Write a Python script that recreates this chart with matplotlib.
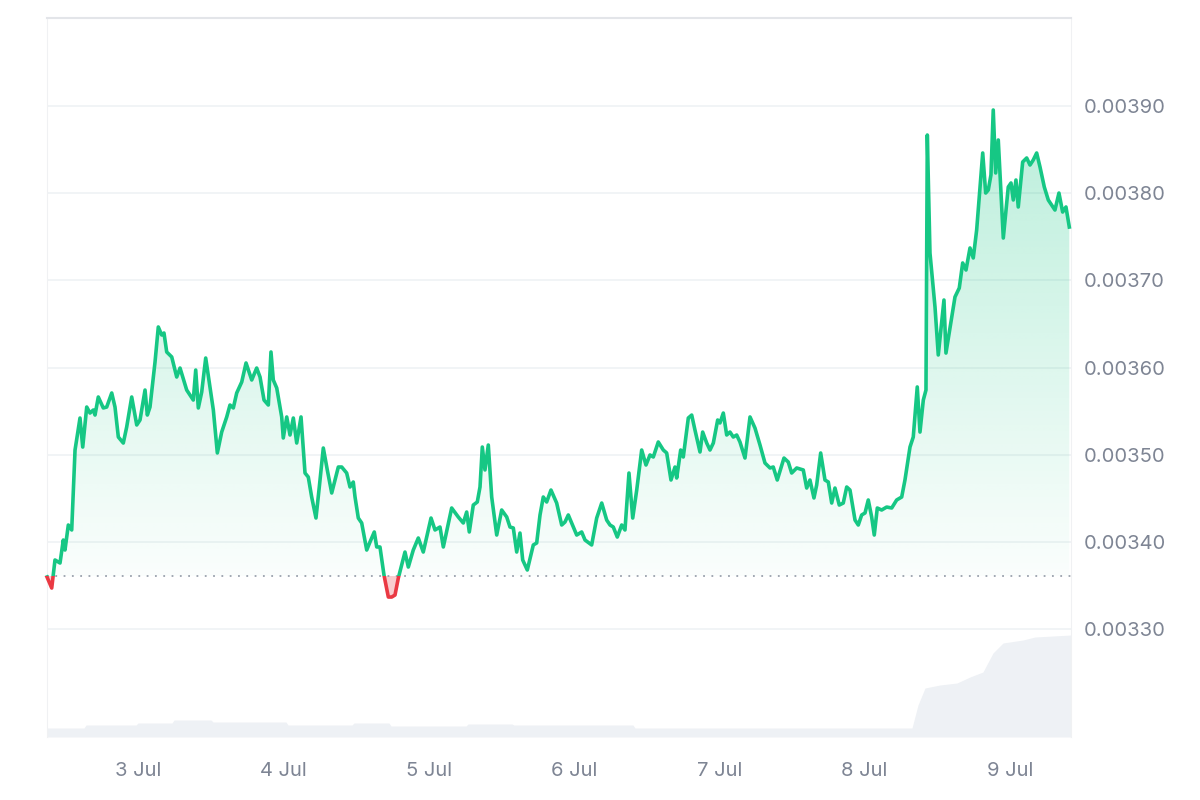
import numpy as np
import matplotlib
matplotlib.use("Agg")
import matplotlib.pyplot as plt
from matplotlib.patches import Rectangle, PathPatch
from matplotlib.path import Path

# ---------------- data ----------------
# time in hours relative to 3 Jul 00:00
hours = [
    -15.03, -14.25, -13.71, -12.88, -12.34, -12.06, -11.51, -10.95, -10.40, -9.58,
    -9.13, -8.47, -7.93, -7.38, -7.10, -6.56, -5.73, -5.17, -4.34, -3.80,
    -3.25, -2.43, -1.87, -1.04, -0.21, 0.33, 1.16, 1.54, 1.98, 2.81,
    3.35, 3.91, 4.29, 4.74, 5.57, 6.39, 6.94, 8.04, 9.13, 9.53,
    9.96, 10.52, 11.18, 12.44, 13.10, 13.82, 14.65, 15.19, 15.74, 16.30,
    17.13, 17.84, 18.78, 19.60, 20.15, 20.81, 21.52, 21.96, 22.34, 22.91,
    23.73, 23.99, 24.56, 25.10, 25.65, 26.21, 26.92, 27.58, 28.12, 28.68,
    29.39, 29.94, 30.60, 31.26, 31.99, 33.08, 33.64, 34.46, 35.01, 35.55,
    35.84, 36.38, 36.94, 37.77, 38.31, 39.02, 39.42, 39.96, 40.62, 41.34,
    41.90, 42.44, 42.99, 44.09, 44.64, 45.46, 46.29, 47.11, 48.39, 49.05,
    49.87, 50.42, 51.80, 52.89, 53.72, 54.28, 54.71, 55.37, 56.03, 56.48,
    56.86, 57.30, 57.85, 58.41, 59.24, 60.06, 60.89, 61.43, 61.98, 62.54,
    63.08, 63.53, 64.29, 65.28, 65.84, 66.39, 66.93, 67.49, 68.20, 69.14,
    69.97, 70.51, 71.06, 71.62, 72.45, 73.27, 73.82, 74.92, 75.75, 76.58,
    77.40, 77.95, 78.49, 79.15, 79.88, 80.42, 81.08, 81.70, 82.36, 83.18,
    83.89, 84.55, 85.10, 85.92, 86.75, 87.31, 88.02, 88.68, 88.96, 89.62,
    90.05, 90.88, 91.44, 91.98, 92.81, 93.25, 93.92, 94.46, 95.01, 95.73,
    96.11, 96.66, 97.22, 97.76, 98.31, 98.87, 99.41, 100.24, 101.07, 101.89,
    102.72, 103.54, 104.37, 104.91, 105.57, 106.68, 107.39, 107.95, 108.78, 109.87,
    110.43, 110.97, 111.63, 112.08, 112.74, 113.45, 114.00, 114.56, 115.10, 115.81,
    116.47, 117.04, 117.58, 118.41, 118.95, 119.51, 120.06, 120.60, 121.16, 121.59,
    122.09, 122.81, 123.64, 124.47, 125.29, 126.12, 126.66, 127.49, 128.03, 128.69,
    129.14, 129.69, 130.13, 130.35, 130.79, 131.62, 132.16, 133.10, 133.43, 134.09,
    134.92, 135.63, 136.19, 136.74, 137.40, 137.94, 138.50, 138.93, 139.50, 139.99,
    140.42, 140.86, 141.24, 141.64, 142.07, 142.90, 143.72, 144.17, 144.55, 144.99,
    145.37, 146.10, 146.76, 147.31, 147.85, 148.41, 148.96, 149.67, 150.33, 151.43,
    152.09, 152.70, 153.25, 153.80,
]

price = [
    0.0033599, 0.0033472, 0.0033794, 0.0033759, 0.0034023, 0.0033908, 0.0034195, 0.0034138, 0.0035055, 0.0035422,
    0.0035089, 0.0035548, 0.0035479, 0.0035514, 0.0035456, 0.0035663, 0.0035537, 0.0035548, 0.0035709, 0.0035548,
    0.0035204, 0.0035135, 0.0035319, 0.0035663, 0.0035342, 0.0035399, 0.0035743, 0.0035456, 0.0035548, 0.0036064,
    0.0036466, 0.0036374, 0.0036397, 0.0036179, 0.0036122, 0.0035892, 0.0035995, 0.0035743, 0.0035628, 0.0035972,
    0.0035537, 0.0035720, 0.0036110, 0.0035514, 0.0035021, 0.0035261, 0.0035434, 0.0035571, 0.0035537, 0.0035709,
    0.0035835, 0.0036053, 0.0035858, 0.0035995, 0.0035892, 0.0035628, 0.0035571, 0.0036179, 0.0035858, 0.0035766,
    0.0035434, 0.0035193, 0.0035434, 0.0035227, 0.0035422, 0.0035135, 0.0035434, 0.0034791, 0.0034745, 0.0034516,
    0.0034275, 0.0034631, 0.0035078, 0.0034826, 0.0034562, 0.0034860, 0.0034860, 0.0034791, 0.0034631, 0.0034688,
    0.0034516, 0.0034275, 0.0034218, 0.0033908, 0.0034000, 0.0034115, 0.0033943, 0.0033943, 0.0033622, 0.0033369,
    0.0033369, 0.0033392, 0.0033587, 0.0033885, 0.0033713, 0.0033908, 0.0034046, 0.0033885, 0.0034275, 0.0034138,
    0.0034172, 0.0033943, 0.0034390, 0.0034287, 0.0034218, 0.0034344, 0.0034115, 0.0034424, 0.0034459, 0.0034631,
    0.0035089, 0.0034826, 0.0035112, 0.0034516, 0.0034080, 0.0034367, 0.0034287, 0.0034172, 0.0034161, 0.0033885,
    0.0034103, 0.0033794, 0.0033679, 0.0033966, 0.0033989, 0.0034310, 0.0034516, 0.0034459, 0.0034596, 0.0034447,
    0.0034195, 0.0034229, 0.0034310, 0.0034218, 0.0034080, 0.0034115, 0.0034023, 0.0033966, 0.0034275, 0.0034447,
    0.0034252, 0.0034195, 0.0034172, 0.0034057, 0.0034195, 0.0034138, 0.0034791, 0.0034275, 0.0034596, 0.0035055,
    0.0034883, 0.0034998, 0.0034975, 0.0035147, 0.0035055, 0.0035021, 0.0034711, 0.0034860, 0.0034734, 0.0035055,
    0.0034975, 0.0035422, 0.0035456, 0.0035284, 0.0035032, 0.0035261, 0.0035135, 0.0035055, 0.0035135, 0.0035399,
    0.0035365, 0.0035479, 0.0035227, 0.0035261, 0.0035204, 0.0035227, 0.0035147, 0.0034963, 0.0035434, 0.0035307,
    0.0035112, 0.0034906, 0.0034849, 0.0034860, 0.0034711, 0.0034963, 0.0034917, 0.0034791, 0.0034849, 0.0034826,
    0.0034619, 0.0034711, 0.0034505, 0.0034654, 0.0035021, 0.0034711, 0.0034688, 0.0034447, 0.0034619, 0.0034424,
    0.0034447, 0.0034631, 0.0034596, 0.0034252, 0.0034195, 0.0034310, 0.0034333, 0.0034482, 0.0034287, 0.0034080,
    0.0034390, 0.0034367, 0.0034401, 0.0034390, 0.0034482, 0.0034516, 0.0034711, 0.0035089, 0.0035204, 0.0035778,
    0.0035261, 0.0035628, 0.0035743, 0.0038667, 0.0037314, 0.0036695, 0.0036145, 0.0036775, 0.0036167, 0.0036454,
    0.0036810, 0.0036913, 0.0037200, 0.0037119, 0.0037372, 0.0037257, 0.0037578, 0.0037956, 0.0038461, 0.0038002,
    0.0038037, 0.0038209, 0.0038954, 0.0038232, 0.0038610, 0.0037486, 0.0038071, 0.0038117, 0.0037922, 0.0038151,
    0.0037842, 0.0038358, 0.0038404, 0.0038323, 0.0038381, 0.0038461, 0.0038301, 0.0038071, 0.0037922, 0.0037807,
    0.0038002, 0.0037784, 0.0037842, 0.0037612,
]

# volume (arbitrary units, millions)
vol_hours = [-15.03, -8.92, -8.59, -0.33, 0.00, 5.61, 5.95, 12.06, 12.39, 24.44,
             24.77, 35.34, 35.67, 41.45, 41.78, 54.17, 54.50, 61.76, 62.09, 81.74,
             82.07, 127.82, 128.81, 129.97, 132.44, 135.25, 137.40, 139.54, 141.20, 142.85,
             146.15, 148.13, 154.08]
volume = [0.9, 0.9, 1.2, 1.2, 1.4, 1.4, 1.7, 1.7, 1.5, 1.5,
          1.2, 1.2, 1.4, 1.4, 1.1, 1.1, 1.3, 1.3, 1.2, 1.2,
          0.9, 0.9, 3.2, 4.9, 5.2, 5.4, 6.0, 6.5, 8.4, 9.4,
          9.7, 10.0, 10.2]

baseline = 0.0033610
ytick_vals = [0.0033, 0.0034, 0.0035, 0.0036, 0.0037, 0.0038, 0.0039]
xtick_hours = [0, 24, 48, 72, 96, 120, 144]
xtick_labels = ["3 Jul", "4 Jul", "5 Jul", "6 Jul", "7 Jul", "8 Jul", "9 Jul"]

# ---------------- style ----------------
GREEN = "#16c784"
RED = "#ea3943"
LABEL = "#7e8594"
GRID = "#eff2f5"
VOLC = "#eef1f5"

plt.rcParams["font.family"] = ["Inter", "DejaVu Sans"]

t = np.array(hours)
p = np.array(price)

fig = plt.figure(figsize=(12, 8), dpi=100)
ax = fig.add_axes([47 / 1200, 1 - 737 / 800, (1071 - 47) / 1200, (737 - 18) / 800])
ax2 = ax.twinx()

XMIN, XMAX = -15.03, 154.08
YMIN, YMAX = 0.0031764, 0.0040009

# volume area on the twin axis
ax2.fill_between(vol_hours, volume, 0, color=VOLC, lw=0)
ax2.set_ylim(0, 71.9)
ax2.set_yticks([])
for s in ax2.spines.values():
    s.set_visible(False)

ax.set_zorder(ax2.get_zorder() + 1)
ax.patch.set_visible(False)

ax.set_xlim(XMIN, XMAX)
ax.set_ylim(YMIN, YMAX)

# gradient fill above baseline
green_fill = ax.fill_between(t, p, baseline, where=p >= baseline, interpolate=True,
                             color="none", lw=0)
paths = green_fill.get_paths()
comp = Path.make_compound_path(*paths)
clip_patch = PathPatch(comp, transform=ax.transData, facecolor="none", edgecolor="none")
ax.add_patch(clip_patch)
ny = 256
alphas = np.linspace(0.30, 0.02, ny)[:, None]
rgb = np.array(matplotlib.colors.to_rgb(GREEN))
img = np.zeros((ny, 2, 4))
img[..., :3] = rgb
img[..., 3] = np.repeat(alphas, 2, axis=1)
im = ax.imshow(img, extent=[XMIN, XMAX, baseline, 0.0039], aspect="auto",
               origin="upper", zorder=1, interpolation="bilinear")
im.set_clip_path(clip_patch)

# red fill below baseline
ax.fill_between(t, p, baseline, where=p < baseline, interpolate=True,
                color=RED, alpha=0.25, lw=0, zorder=1)

# baseline dotted
ax.axhline(baseline, color="#9aa1ad", lw=1.3, ls=(0, (1, 3.6)), zorder=2)

# price line, green above / red below baseline
ln_g, = ax.plot(t, p, color=GREEN, lw=2.6, zorder=3, solid_joinstyle="round")
ln_r, = ax.plot(t, p, color=RED, lw=2.6, zorder=3, solid_joinstyle="round")
clip_up = Rectangle((XMIN - 10, baseline), XMAX - XMIN + 20, 0.01, transform=ax.transData)
clip_dn = Rectangle((XMIN - 10, baseline - 0.01), XMAX - XMIN + 20, 0.01, transform=ax.transData)
ln_g.set_clip_path(clip_up)
ln_r.set_clip_path(clip_dn)

# axes cosmetics
ax.yaxis.tick_right()
ax.set_yticks(ytick_vals)
ax.set_yticklabels([f"{v:.5f}" for v in ytick_vals])
ax.set_xticks(xtick_hours)
ax.set_xticklabels(xtick_labels)
ax.tick_params(axis="y", length=0, pad=9, labelsize=14.5, labelcolor=LABEL)
ax.tick_params(axis="x", length=0, pad=18, labelsize=14.5, labelcolor=LABEL)
ax.grid(axis="y", color=GRID, lw=1.2)
ax.set_axisbelow(True)

ax.spines["top"].set_color("#e3e5e9")
ax.spines["top"].set_linewidth(1.5)
ax.spines["left"].set_color("#f0f1f3")
ax.spines["right"].set_color("#f0f1f3")
ax.spines["bottom"].set_visible(False)

fig.savefig("out.png", dpi=100, facecolor="white")
